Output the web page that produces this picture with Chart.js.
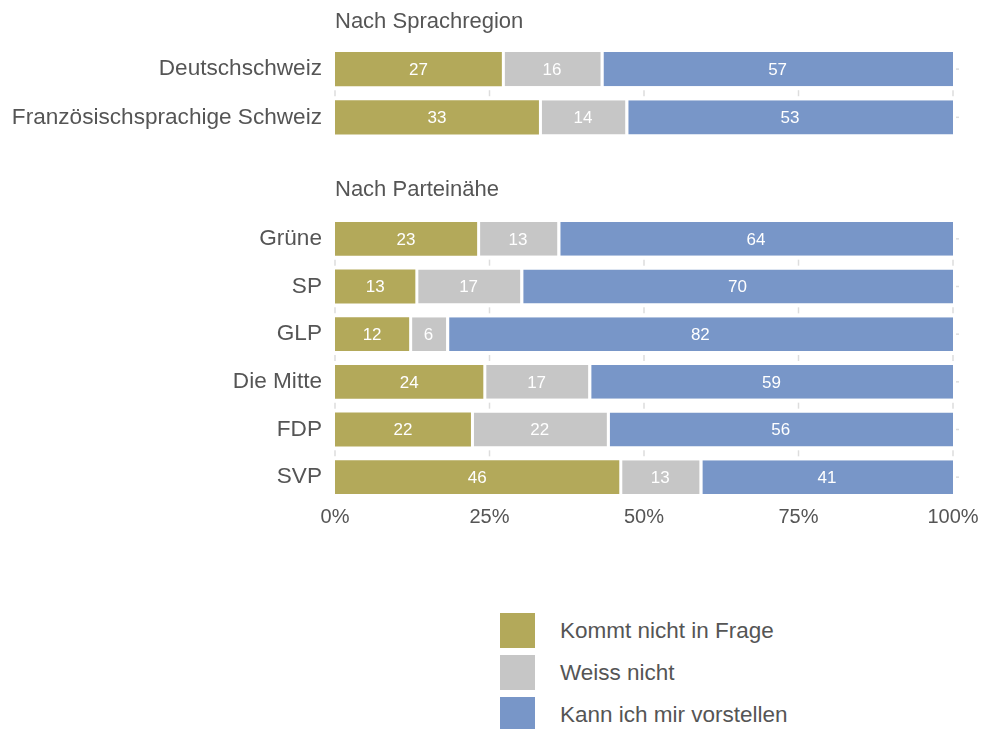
<!DOCTYPE html>
<html>
<head>
<meta charset="utf-8">
<script src="https://cdn.jsdelivr.net/npm/chart.js@4.4.0/dist/chart.umd.min.js"></script>
<style>
  html, body { margin: 0; padding: 0; background: #fff; }
  body { width: 985px; height: 729px; position: relative; overflow: hidden;
         font-family: "Liberation Sans", Arial, Helvetica, sans-serif; }
  #c1wrap { position: absolute; left: 0; top: 0; width: 985px; height: 168px; }
  #c2wrap { position: absolute; left: 0; top: 160px; width: 985px; height: 380px; }
  #legend { position: absolute; left: 500px; top: 613px; }
  .item { height: 42px; display: flex; align-items: flex-start; }
  .sw { width: 35px; height: 35px; }
  .lab { margin-left: 25px; font-size: 22.5px; color: #555; line-height: 35px; }
</style>
</head>
<body>
<div id="c1wrap"><canvas id="c1" width="985" height="168"></canvas></div>
<div id="c2wrap"><canvas id="c2" width="985" height="380"></canvas></div>
<div id="legend"></div>
<script>
// ---- Data ----
const seriesNames = ['Kommt nicht in Frage', 'Weiss nicht', 'Kann ich mir vorstellen'];
const seriesColors = ['#b3a95a', '#c6c6c6', '#7896c8'];

const regionTitle = 'Nach Sprachregion';
const regionCategories = ['Deutschschweiz', 'Französischsprachige Schweiz'];
const regionKommtNicht = [27, 33];
const regionWeissNicht = [16, 14];
const regionKann = [57, 53];

const partyTitle = 'Nach Parteinähe';
const partyCategories = ['Grüne', 'SP', 'GLP', 'Die Mitte', 'FDP', 'SVP'];
const partyKommtNicht = [23, 13, 12, 24, 22, 46];
const partyWeissNicht = [13, 17, 6, 17, 22, 13];
const partyKann = [64, 70, 82, 59, 56, 41];

const xTicks = [0, 25, 50, 75, 100];

// ---- Helpers ----
const FONT = '"Liberation Sans", Arial, Helvetica, sans-serif';
const TEXT = '#555555';

function makeDatasets(a, b, c) {
  return [a, b, c].map((d, i) => ({
    label: seriesNames[i],
    data: d,
    backgroundColor: seriesColors[i],
    borderColor: '#ffffff',
    borderWidth: i === 0 ? 0 : { left: 3, right: 0, top: 0, bottom: 0 },
    borderSkipped: false,
    barPercentage: 1,
    categoryPercentage: 34 / 47.8
  }));
}

const valueLabels = {
  id: 'valueLabels',
  afterDatasetsDraw(chart) {
    const ctx = chart.ctx;
    ctx.save();
    ctx.fillStyle = '#ffffff';
    ctx.font = '17px ' + FONT;
    ctx.textAlign = 'center';
    ctx.textBaseline = 'middle';
    chart.data.datasets.forEach((ds, di) => {
      const meta = chart.getDatasetMeta(di);
      meta.data.forEach((bar, i) => {
        const v = ds.data[i];
        const left = Math.min(bar.x, bar.base) + (di === 0 ? 0 : 1.5);
        const right = Math.max(bar.x, bar.base);
        ctx.fillText(String(v), (left + right) / 2, bar.y + 1);
      });
    });
    ctx.restore();
  }
};

// faint tick marks between rows (at x tick positions) and at the right edge of each row
const faintTicks = {
  id: 'faintTicks',
  beforeDatasetsDraw(chart) {
    const ctx = chart.ctx;
    const xs = chart.scales.x, ys = chart.scales.y;
    const n = chart.data.labels.length;
    ctx.save();
    ctx.strokeStyle = '#dddddd';
    ctx.lineWidth = 1.5;
    for (let i = 0; i < n - 1; i++) {
      const yMid = (ys.getPixelForValue(i) + ys.getPixelForValue(i + 1)) / 2;
      xTicks.forEach(v => {
        const x = xs.getPixelForValue(v);
        ctx.beginPath();
        ctx.moveTo(x, yMid - 3);
        ctx.lineTo(x, yMid + 3);
        ctx.stroke();
      });
    }
    for (let i = 0; i < n; i++) {
      const y = ys.getPixelForValue(i);
      const xr = xs.getPixelForValue(100);
      ctx.beginPath();
      ctx.moveTo(xr + 3, y);
      ctx.lineTo(xr + 6, y);
      ctx.stroke();
    }
    ctx.restore();
  }
};

const panelTitle = {
  id: 'panelTitle',
  afterDraw(chart, args, opts) {
    const ctx = chart.ctx;
    ctx.save();
    ctx.fillStyle = TEXT;
    ctx.font = '22px ' + FONT;
    ctx.textAlign = 'left';
    ctx.textBaseline = 'middle';
    ctx.fillText(opts.text, chart.chartArea.left, opts.y);
    ctx.restore();
  }
};

function makeOptions(titleText, titleY, padTop, padBottom, showX) {
  return {
    indexAxis: 'y',
    responsive: false,
    animation: false,
    layout: { padding: { left: 0, right: 32, top: padTop, bottom: padBottom } },
    plugins: {
      legend: { display: false },
      tooltip: { enabled: false },
      panelTitle: { text: titleText, y: titleY }
    },
    scales: {
      x: {
        stacked: true,
        min: 0, max: 100,
        display: showX,
        border: { display: false },
        grid: { display: false, drawTicks: false },
        afterBuildTicks(scale) { scale.ticks = xTicks.map(v => ({ value: v })); },
        afterFit(scale) { scale.height = showX ? 39 : 0; },
        ticks: {
          padding: 4,
          color: TEXT,
          font: { size: 20, family: FONT },
          maxRotation: 0,
          callback: v => v + '%'
        }
      },
      y: {
        stacked: true,
        border: { display: false },
        grid: { display: false, drawTicks: false },
        afterFit(scale) { scale.width = 335; },
        ticks: {
          padding: 13,
          color: TEXT,
          font: { size: 22.6, family: FONT }
        }
      }
    }
  };
}

new Chart(document.getElementById('c1'), {
  type: 'bar',
  data: { labels: regionCategories, datasets: makeDatasets(regionKommtNicht, regionWeissNicht, regionKann) },
  options: makeOptions(regionTitle, 22, 45, 9, false),
  plugins: [faintTicks, valueLabels, panelTitle]
});

new Chart(document.getElementById('c2'), {
  type: 'bar',
  data: { labels: partyCategories, datasets: makeDatasets(partyKommtNicht, partyWeissNicht, partyKann) },
  options: makeOptions(partyTitle, 30, 55, 0, true),
  plugins: [faintTicks, valueLabels, panelTitle]
});

// ---- Legend ----
const legend = document.getElementById('legend');
seriesNames.forEach((name, i) => {
  const row = document.createElement('div');
  row.className = 'item';
  const sw = document.createElement('div');
  sw.className = 'sw';
  sw.style.background = seriesColors[i];
  const lab = document.createElement('div');
  lab.className = 'lab';
  lab.textContent = name;
  row.appendChild(sw);
  row.appendChild(lab);
  legend.appendChild(row);
});
</script>
</body>
</html>
